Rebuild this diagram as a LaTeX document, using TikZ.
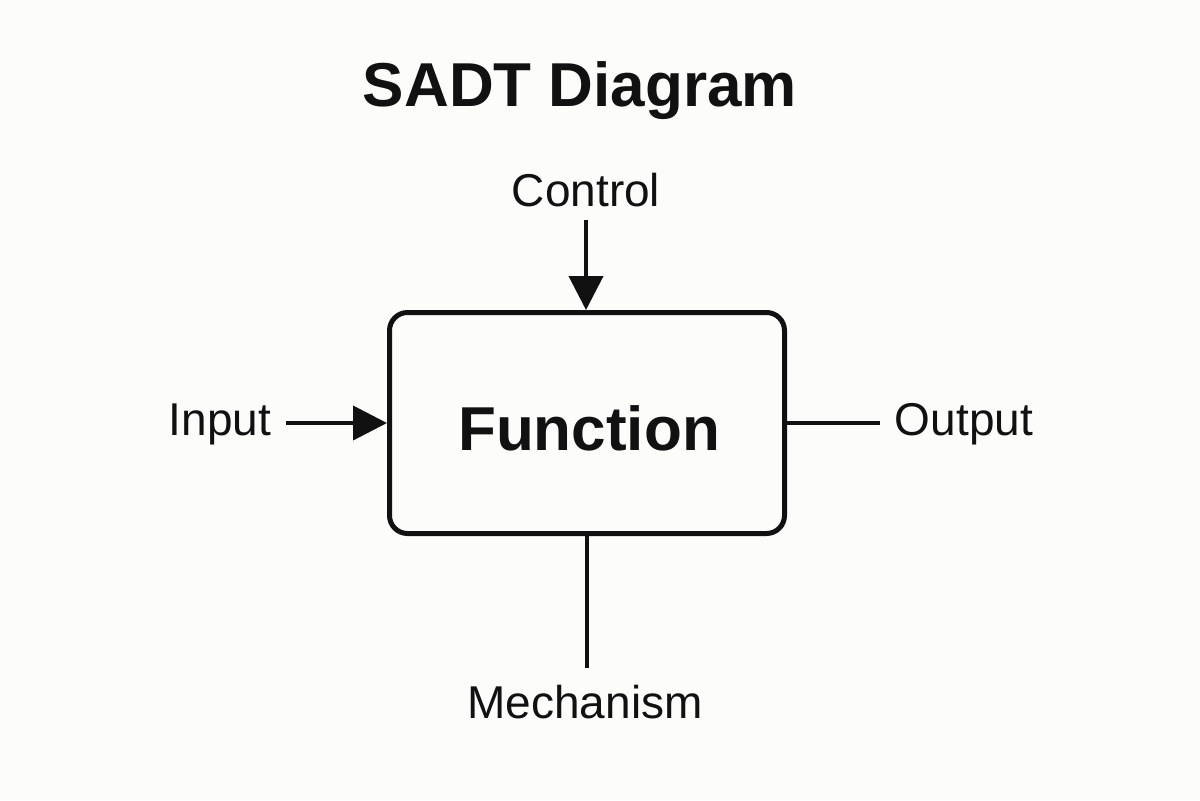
\documentclass[tikz,border=0pt]{standalone}
\usepackage{fontspec}
\setmainfont{Liberation Sans}
\usepackage{tikz}
\usetikzlibrary{arrows.meta,positioning}
\definecolor{ink}{RGB}{17,17,17}
\definecolor{paper}{RGB}{252,252,250}
\tikzset{
  fbox/.style={draw=ink,line width=2.5pt,rounded corners=9pt,minimum width=197.5pt,minimum height=110.5pt,inner sep=0pt},
  lbl/.style={text=ink,font=\fontsize{23}{26}\selectfont,inner sep=0pt,anchor=base},
  conn/.style={draw=ink,line width=2pt},
  arr/.style={conn,-{Triangle[length=17pt,width=17pt]}}
}
\begin{document}
\begin{tikzpicture}[x=0.5pt,y=-0.5pt]
\fill[paper] (0,0) rectangle (1200,800);
\useasboundingbox (0,0) rectangle (1200,800);

% title
\node[lbl,font=\bfseries\fontsize{31}{34}\selectfont] (title) at (580,106) {SADT Diagram};

% function box
\node[fbox] (func) at (587,423) {};
\node[lbl,font=\bfseries\fontsize{31}{34}\selectfont] (fname) at (589,450) {Function};

% labels
\node[lbl] (ctrl) at (586,206) {Control};
\node[lbl] (inp) at (220,435) {Input};
\node[lbl] (outp) at (964,435) {Output};
\node[lbl] (mech) at (585,718) {Mechanism};

% free ends
\coordinate (ctrlend) at (586,220);
\coordinate (inpend) at (286,423);
\coordinate (outpend) at (880,423);
\coordinate (mechend) at (587,668);

% connectors
\draw[arr] (ctrlend) -- (func.north -| ctrlend);
\draw[arr] (inpend) -- (func.west |- inpend);
\draw[conn] (func.east |- outpend) -- (outpend);
\draw[conn] (func.south) -- (mechend);
\end{tikzpicture}
\end{document}
